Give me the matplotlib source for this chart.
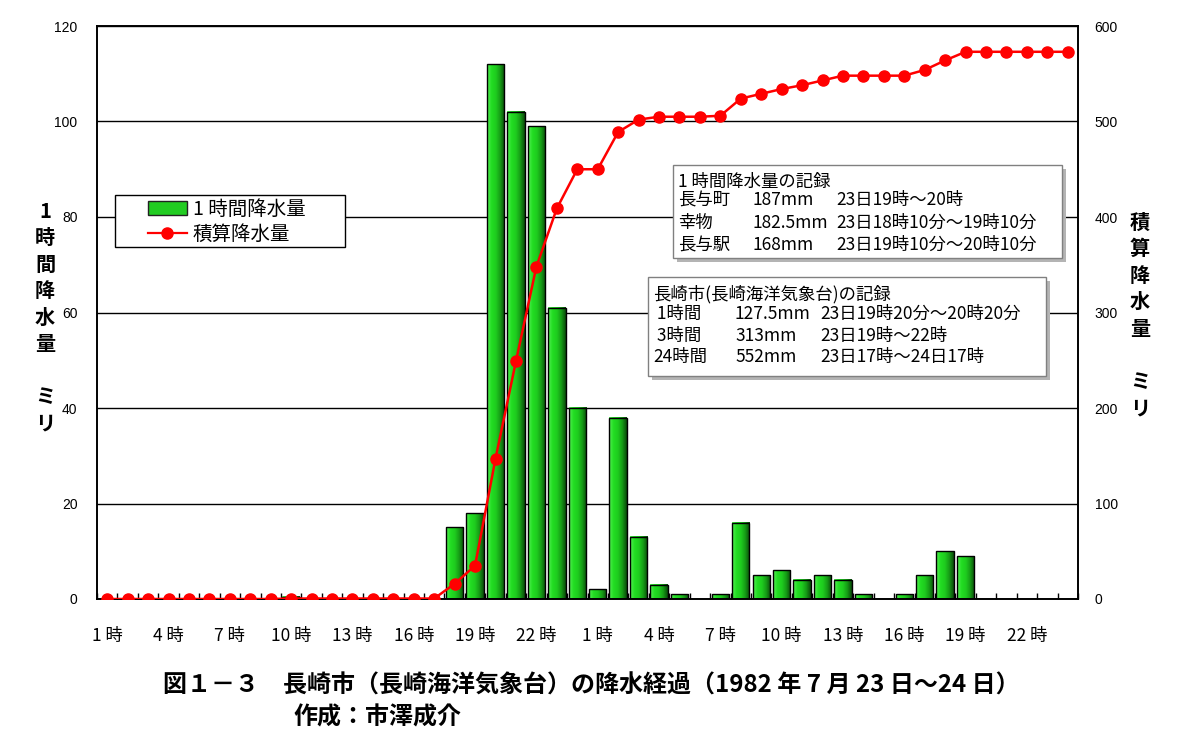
import numpy as np
import matplotlib
matplotlib.use("Agg")
import matplotlib.pyplot as plt
from matplotlib.patches import Rectangle
from matplotlib.lines import Line2D
from matplotlib.patches import Patch

plt.rcParams['font.family'] = ['Noto Sans CJK JP', 'DejaVu Sans']

# 1. Data: 23rd 1時 .. 24th 24時 (48 hours)
hour_labels = ["1 時", "4 時", "7 時", "10 時", "13 時", "16 時", "19 時", "22 時"] * 2
hourly = [0, 0, 0, 0, 0, 0, 0, 0, 0, 0.5, 0, 0, 0, 0, 0, 0, 0,
          15, 18, 112, 102, 99, 61, 40, 2, 38, 13, 3, 1, 0, 1, 16, 5, 6, 4, 5, 4,
          1, 0, 1, 5, 10, 9, 0, 0, 0, 0, 0]
cumulative = [0, 0, 0, 0, 0, 0, 0, 0, 0, 0.5, 0.5, 0.5, 0.5, 0.5, 0.5, 0.5, 0.5,
              16, 35, 147, 249, 348, 409, 450, 450, 489, 502, 505, 505, 505, 506,
              524, 529, 534, 538, 543, 548, 548, 548, 548, 554, 564,
              573, 573, 573, 573, 573, 573]

x = np.arange(len(hourly))

fig = plt.figure(figsize=(12, 7.35), dpi=100)
ax = fig.add_axes([97 / 1200, 1 - 599 / 735, 981 / 1200, 573 / 735])
ax2 = ax.twinx()

# 2. Bars with a cylinder-like shading
bars = ax.bar(x, hourly, width=0.85, color="#22cc22", edgecolor="none", zorder=2)
grad = np.linspace(0, 1, 64).reshape(1, -1)
cmap = matplotlib.colors.LinearSegmentedColormap.from_list(
    "g", ["#55ee55", "#22dd22", "#1ecc1e", "#169a16", "#0a4a0a"])
for b in bars:
    if b.get_height() <= 0:
        continue
    x0, w, h = b.get_x(), b.get_width(), b.get_height()
    ax.imshow(grad, extent=[x0, x0 + w, 0, h], aspect="auto", cmap=cmap,
              zorder=2.5, interpolation="bilinear")
ax.bar(x, hourly, width=0.85, facecolor="none", edgecolor="black", linewidth=1.0, zorder=3)

ax.set_xlim(-0.5, len(hourly) - 0.5)
ax.set_ylim(0, 120)
ax.set_yticks(np.arange(0, 121, 20))
ax.yaxis.grid(True, color="black", linewidth=1.0, zorder=0)
ax.set_axisbelow(True)
ax.tick_params(axis="y", length=0, pad=14, labelsize=10)

ax.set_xticks(x[::3])
ax.set_xticklabels(hour_labels, fontsize=12.5)
ax.set_xticks(np.arange(-0.5, len(hourly), 1), minor=True)
ax.tick_params(axis="x", which="major", length=0, pad=20)
ax.tick_params(axis="x", which="minor", direction="in", length=4, width=1)

# 3. Cumulative line
ax2.plot(x, cumulative, color="#ff0000", linewidth=1.8, marker="o",
         markersize=8, zorder=5)
ax2.set_ylim(0, 600)
ax2.set_yticks(np.arange(0, 601, 100))
ax2.tick_params(axis="y", length=0, pad=12, labelsize=10)

for a in (ax, ax2):
    for s in a.spines.values():
        s.set_linewidth(1.2)
        s.set_color("black")
for lab in ax.get_yticklabels() + ax2.get_yticklabels():
    lab.set_family("Liberation Sans")

# legend (frame drawn separately to get the wide side padding)
fig.add_artist(Rectangle((115 / 1200, 1 - 247 / 735), 230 / 1200, 52 / 735,
                         transform=fig.transFigure, facecolor="white",
                         edgecolor="black", linewidth=1.0))
handles = [Patch(facecolor="#22cc22", edgecolor="#222222"),
           Line2D([], [], color="#ff0000", marker="o", markersize=8, linewidth=1.6)]
leg = fig.legend(handles, ["1 時間降水量", "積算降水量"], loc="center left",
                 bbox_to_anchor=(148 / 1200, 1 - 222 / 735),
                 frameon=False, fontsize=14, borderpad=0, labelspacing=0.2,
                 handlelength=2.0, handletextpad=0.3, borderaxespad=0)
leg.set_zorder(3)

# axis titles (vertical)
fig.text(45 / 1200, 1 - 317 / 735, "1\n時\n間\n降\n水\n量\n\nミ\nリ", ha="center", va="center",
         fontsize=14.5, fontweight="bold", linespacing=1.32)
fig.text(1140 / 1200, 1 - 315 / 735, "積\n算\n降\n水\n量\n\nミ\nリ", ha="center", va="center",
         fontsize=14.5, fontweight="bold", linespacing=1.32)


def px(xp, yp):
    return xp / 1200, 1 - yp / 735


def record_box(left, top, right, bottom):
    for dx, col, ec in ((4, "#b4b4b4", "none"), (0, "white", "#808080")):
        x0, y0 = px(left + dx, bottom + dx)
        w = (right - left) / 1200
        h = (bottom - top) / 735
        fig.add_artist(Rectangle((x0, y0), w, h, transform=fig.transFigure,
                                 facecolor=col, edgecolor=ec, linewidth=1.0))


record_box(673, 165, 1062, 258)
record_box(648, 277, 1046, 376)

box1_rows = [("長与町", "187mm", "23日19時～20時"),
             ("幸物", "182.5mm", "23日18時10分～19時10分"),
             ("長与駅", "168mm", "23日19時10分～20時10分")]
box2_rows = [(" 1時間", "127.5mm", "23日19時20分～20時20分"),
             (" 3時間", "313mm", "23日19時～22時"),
             ("24時間", "552mm", "23日17時～24日17時")]

fs = 12.5
fig.text(*px(678, 182), "1 時間降水量の記録", fontsize=fs, va="center", zorder=3)
for (a, b, c), yp in zip(box1_rows, [200, 223, 245]):
    fig.text(*px(678, yp), a, fontsize=fs, va="center", zorder=3)
    fig.text(*px(752, yp), b, fontsize=fs, va="center", zorder=3)
    fig.text(*px(836, yp), c, fontsize=fs, va="center", zorder=3)

fig.text(*px(653, 294), "長崎市(長崎海洋気象台)の記録", fontsize=fs, va="center", zorder=3)
for (a, b, c), yp in zip(box2_rows, [314, 336, 357]):
    fig.text(*px(653, yp), a, fontsize=fs, va="center", zorder=3)
    fig.text(*px(735, yp), b, fontsize=fs, va="center", zorder=3)
    fig.text(*px(820, yp), c, fontsize=fs, va="center", zorder=3)

# caption
fig.text(*px(163, 686), "図１－３　長崎市（長崎海洋気象台）の降水経過（1982 年 7 月 23 日～24 日）",
         fontsize=17.3, fontweight="bold", va="center")
fig.text(*px(293, 718), "作成：市澤成介", fontsize=17.3, fontweight="bold", va="center")

fig.savefig("out.png", dpi=100)
